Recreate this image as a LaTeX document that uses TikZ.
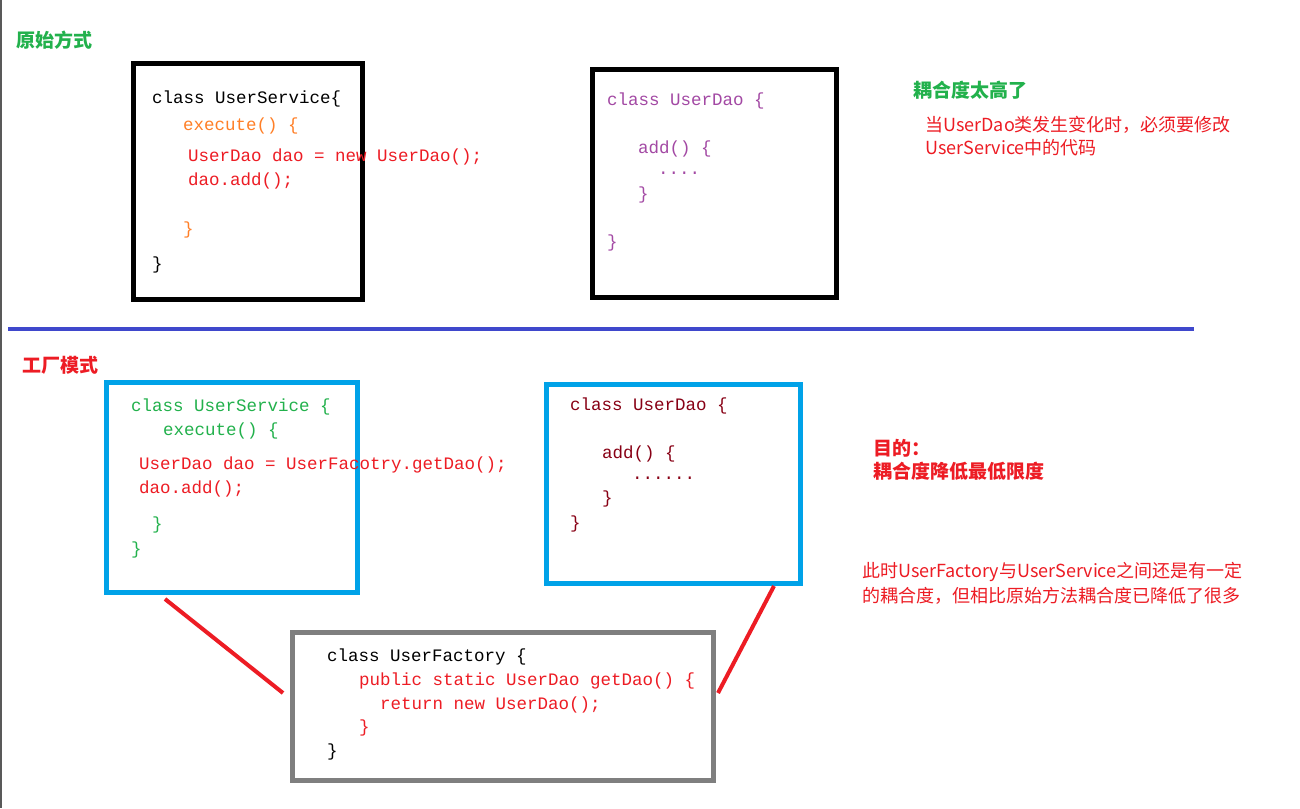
\documentclass[tikz,border=0pt]{standalone}
\usepackage{fontspec}
\newfontfamily\codefont{Liberation Mono}
\newfontfamily\cjk{Noto Sans CJK SC}
\definecolor{cgreen}{HTML}{22B14C}
\definecolor{corange}{HTML}{FF7F27}
\definecolor{cred}{HTML}{ED1C24}
\definecolor{cpurple}{HTML}{A349A4}
\definecolor{cblue}{HTML}{00A2E8}
\definecolor{cdarkred}{HTML}{880015}
\definecolor{cindigo}{HTML}{3F48CC}
\definecolor{cgray}{HTML}{7F7F7F}
\tikzset{
  codebox/.style={draw, line width=5pt, anchor=north west, inner sep=0pt, outer sep=0pt},
  code/.style={anchor=west, inner sep=0pt, yshift=-1.5pt, font=\codefont\fontsize{17.5}{20}\selectfont},
  title/.style={anchor=west, inner sep=0pt, font=\cjk\bfseries\fontsize{19}{22}\selectfont},
  note/.style={anchor=west, inner sep=0pt, font=\cjk\fontsize{18}{22}\selectfont, text=cred},
  link/.style={draw=cred, line width=4pt}
}
\begin{document}
\begin{tikzpicture}[x=1pt,y=-1pt]
\useasboundingbox[fill=white] (0,0) rectangle (1300,808);
\draw[gray!70!black, line width=1.5pt] (0.75,0) -- (0.75,808);

% ---------- top section
\node[title, text=cgreen] (t1) at (16,40) {原始方式};

\node[codebox, minimum width=229pt, minimum height=236pt] (svc1) at (133.5,63.5) {};
\node[code, text=black] (s1a) at (152,97) {class UserService\{};
\node[code, text=corange] (s1b) at (183,124) {execute() \{};
\node[code, text=cred] (s1c) at (188,155) {UserDao dao = new UserDao();};
\node[code, text=cred] (s1d) at (188,179) {dao.add();};
\node[code, text=corange] (s1e) at (183,228) {\}};
\node[code, text=black] (s1f) at (152,263) {\}};

\node[codebox, minimum width=244pt, minimum height=228pt] (dao1) at (592.5,69.5) {};
\node[code, text=cpurple] (d1a) at (607,99) {class UserDao \{};
\node[code, text=cpurple] (d1b) at (638,147) {add() \{};
\node[code, text=cpurple] (d1c) at (658,172) {....};
\node[code, text=cpurple] (d1d) at (638,193) {\}};
\node[code, text=cpurple] (d1e) at (607,241) {\}};

\node[title, text=cgreen] (t2) at (913,90) {耦合度太高了};
\node[note] (n1) at (925,125) {当UserDao类发生变化时，必须要修改};
\node[note] (n2) at (925,148) {UserService中的代码};

% ---------- separator
\coordinate (sepL) at (8,329);
\coordinate (sepR) at (1194,329);
\draw[cindigo, line width=4pt] (sepL) -- (sepR);

% ---------- bottom section
\node[title, text=cred] (t3) at (22,365) {工厂模式};

\node[codebox, draw=cblue, minimum width=251pt, minimum height=210pt] (svc2) at (106.5,382.5) {};
\node[code, text=cgreen] (s2a) at (131,405) {class UserService \{};
\node[code, text=cgreen] (s2b) at (163,429) {execute() \{};
\node[code, text=cred] (s2c) at (139,463) {UserDao dao = UserFacotry.getDao();};
\node[code, text=cred] (s2d) at (139,487) {dao.add();};
\node[code, text=cgreen] (s2e) at (152,523) {\}};
\node[code, text=cgreen] (s2f) at (131,548) {\}};

\node[codebox, draw=cblue, minimum width=254pt, minimum height=199pt] (dao2) at (546.5,384.5) {};
\node[code, text=cdarkred] (d2a) at (570,404) {class UserDao \{};
\node[code, text=cdarkred] (d2b) at (602,452) {add() \{};
\node[code, text=cdarkred] (d2c) at (632,477) {......};
\node[code, text=cdarkred] (d2d) at (602,497) {\}};
\node[code, text=cdarkred] (d2e) at (570,522) {\}};

\node[title, text=cred] (t4) at (873,448) {目的：};
\node[title, text=cred] (t5) at (873,471) {耦合度降低最低限度};
\node[note] (n3) at (862,572) {此时UserFactory与UserService之间还是有一定};
\node[note] (n4) at (862,596) {的耦合度，但相比原始方法耦合度已降低了很多};

\node[codebox, draw=cgray, minimum width=421pt, minimum height=148pt] (fac) at (292.5,632.5) {};
\node[code, text=black] (f1) at (327,655) {class UserFactory \{};
\node[code, text=cred] (f2) at (359,679) {public static UserDao getDao() \{};
\node[code, text=cred] (f3) at (380,703) {return new UserDao();};
\node[code, text=cred] (f4) at (359,726) {\}};
\node[code, text=black] (f5) at (327,750) {\}};

% ---------- links
\coordinate (l1a) at (165,599);
\coordinate (l1b) at (283,693);
\coordinate (l2a) at (774,586);
\coordinate (l2b) at (718,693);
\draw[link] (l1a) -- (l1b);
\draw[link] (l2a) -- (l2b);
\end{tikzpicture}
\end{document}
